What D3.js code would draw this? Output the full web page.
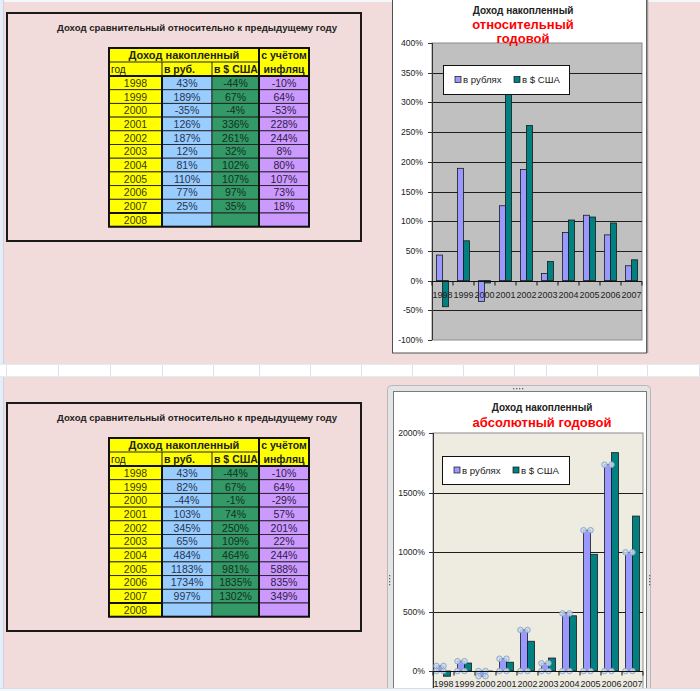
<!DOCTYPE html>
<html><head><meta charset="utf-8">
<script src="https://cdn.jsdelivr.net/npm/d3@7"></script>
<style>
body{margin:0;background:#F2DCDB;overflow:hidden}
svg{display:block}
text{font-family:"Liberation Sans",Arial,sans-serif}
</style>
</head><body>
<svg id="c" width="700" height="691"></svg>
<script>
// ---------- data ----------
const years = ["1998","1999","2000","2001","2002","2003","2004","2005","2006","2007"];
const tableYears = years.concat(["2008"]);
const relRub  = [43,189,-35,126,187,12,81,110,77,25];
const relUsd  = [-44,67,-4,336,261,32,102,107,97,35];
const relInfl = [-10,64,-53,228,244,8,80,107,73,18];
const absRub  = [43,82,-44,103,345,65,484,1183,1734,997];
const absUsd  = [-44,67,-1,74,250,109,464,981,1835,1302];
const absInfl = [-10,64,-29,57,201,22,244,588,835,349];
const relTicks = [-100,-50,0,50,100,150,200,250,300,350,400];
const absTicks = [0,500,1000,1500,2000];
const seriesNames = ["в рублях","в $ США"];
const tableTitle = "Доход сравнительный относительно к предыдущему году";
const headTop = "Доход накопленный";
const headCols = ["год","в руб.","в $ США"];
const headInfl = ["с учётом","инфляц"];
const chartTitle = "Доход накопленный";
const relSub = ["относительный","годовой"];
const absSub = ["абсолютный годовой"];
const sheetGridX = [6,58,110,162,213,259,310,361,412,463,514,546,597,647,699];

const svg = d3.select("#c");
const pct = d => d + "%";

// background
svg.append("rect").attr("width",700).attr("height",691).attr("fill","#F2DCDB");
svg.append("rect").attr("x",0).attr("y",0).attr("width",700).attr("height",2).attr("fill","#F4F7FB");
svg.append("rect").attr("x",0).attr("y",0).attr("width",3).attr("height",691).attr("fill","#E6EDF6");
svg.append("line").attr("x1",3.5).attr("x2",3.5).attr("y1",0).attr("y2",691).attr("stroke","#C9D3E2");

// sheet grid strip between the two blocks
svg.append("rect").attr("x",0).attr("y",364).attr("width",700).attr("height",13).attr("fill","#FFFFFF");
svg.selectAll(".sg").data(sheetGridX).join("line")
  .attr("x1",d=>d+0.5).attr("x2",d=>d+0.5).attr("y1",364).attr("y2",377)
  .attr("stroke","#DCE3EE");
svg.append("line").attr("x1",0).attr("x2",700).attr("y1",364.5).attr("y2",364.5).attr("stroke","#E6EBF2");
svg.append("line").attr("x1",0).attr("x2",700).attr("y1",376.5).attr("y2",376.5).attr("stroke","#E6EBF2");

// ---------- table ----------
function drawTable(top, rub, usd, infl) {
  const g = svg.append("g");
  g.append("rect").attr("x",7).attr("y",top-35).attr("width",354).attr("height",228)
    .attr("fill","none").attr("stroke","#1a1a1a").attr("stroke-width",2);
  g.append("text").attr("x",197).attr("y",top-17).attr("text-anchor","middle")
    .attr("font-size",9.6).attr("font-weight","bold").attr("fill","#222").text(tableTitle);

  const cols = [109,162,212,259,309];
  const h2 = top + 14, d0 = top + 28;
  const rowY = d3.scaleBand().domain(tableYears).range([d0, d0 + 13.7*tableYears.length]);
  const fills = ["#FFFF00","#99CCFF","#339966","#CC99FF"];
  const txtCol = ["#3a3a00","#26344f","#10301e","#2e1a46"];
  const vals = [null, rub, usd, infl];

  g.append("rect").attr("x",cols[0]).attr("y",top).attr("width",cols[4]-cols[0]).attr("height",28).attr("fill","#FFFF00");
  tableYears.forEach((yr,i)=>{
    for (let c=0;c<4;c++){
      g.append("rect").attr("x",cols[c]).attr("y",rowY(yr)).attr("width",cols[c+1]-cols[c])
        .attr("height",rowY.bandwidth()).attr("fill",fills[c])
        .attr("stroke","#222").attr("stroke-width",0.9);
      const t = c===0 ? yr : (i < years.length ? pct(vals[c][i]) : "");
      if (t) g.append("text").attr("x",(cols[c]+cols[c+1])/2).attr("y",rowY(yr)+rowY.bandwidth()/2+4)
        .attr("text-anchor","middle").attr("font-size",10.5).attr("fill",txtCol[c]).text(t);
    }
  });
  // headers
  g.append("text").attr("x",(cols[0]+cols[3])/2).attr("y",top+11).attr("text-anchor","middle")
    .attr("font-size",11).attr("font-weight","bold").attr("fill","#222").text(headTop);
  headCols.forEach((h,i)=>{
    g.append("text").attr("x",cols[i]+2).attr("y",h2+11).attr("font-size",i===0?10:10.5)
      .attr("font-weight",i===0?"normal":"bold").attr("fill","#222").text(h);
  });
  headInfl.forEach((h,i)=>{
    g.append("text").attr("x",(cols[3]+cols[4])/2).attr("y",top+11+i*14).attr("text-anchor","middle")
      .attr("font-size",10.5).attr("font-weight","bold").attr("fill","#222").text(h);
  });
  // header lines
  g.append("line").attr("x1",cols[0]).attr("x2",cols[3]).attr("y1",h2).attr("y2",h2).attr("stroke","#222").attr("stroke-width",1);
  [cols[1],cols[2]].forEach(x=>g.append("line").attr("x1",x).attr("x2",x).attr("y1",h2).attr("y2",d0).attr("stroke","#222"));
  // thick lines
  const bottom = d0 + 13.7*tableYears.length;
  const thick = (x1,y1,x2,y2)=>g.append("line").attr("x1",x1).attr("y1",y1).attr("x2",x2).attr("y2",y2).attr("stroke","#111").attr("stroke-width",2);
  thick(cols[3],top,cols[3],bottom);
  thick(cols[1],d0,cols[1],bottom);
  thick(cols[0],d0,cols[4],d0);
  thick(cols[0],rowY("2008"),cols[1],rowY("2008"));
  g.append("rect").attr("x",cols[0]).attr("y",top).attr("width",cols[4]-cols[0]).attr("height",bottom-top)
    .attr("fill","none").attr("stroke","#111").attr("stroke-width",2);
}
drawTable(48, relRub, relUsd, relInfl);
drawTable(438, absRub, absUsd, absInfl);

// ---------- charts ----------
function drawChart(o) {
  const g = svg.append("g");
  const x = d3.scaleBand().domain(years).range([o.x0, o.x1]);
  const y = d3.scaleLinear().domain(o.domain).range([o.yBot, o.yTop]);
  g.append("rect").attr("x",o.x0).attr("y",o.yTop).attr("width",o.x1-o.x0).attr("height",o.plotBottom-o.yTop)
    .attr("fill",o.plotFill).attr("stroke","#8c8c8c").attr("stroke-width",1);
  // gridlines
  g.selectAll(".gl").data(o.ticks.filter(t=>t!==o.domain[0] && t!==o.domain[1])).join("line")
    .attr("x1",o.x0).attr("x2",o.x1).attr("y1",d=>Math.round(y(d))+0.5).attr("y2",d=>Math.round(y(d))+0.5)
    .attr("stroke","#1e1e1e").attr("stroke-width",1);
  // y axis
  g.append("line").attr("x1",o.x0+0.5).attr("x2",o.x0+0.5).attr("y1",o.yTop).attr("y2",o.plotBottom).attr("stroke","#333");
  g.selectAll(".yt").data(o.ticks).join("line")
    .attr("x1",o.x0-4).attr("x2",o.x0).attr("y1",d=>Math.round(y(d))+0.5).attr("y2",d=>Math.round(y(d))+0.5).attr("stroke","#333");
  g.selectAll(".yl").data(o.ticks).join("text")
    .attr("x",o.x0-o.labOff).attr("y",d=>y(d)+3).attr("text-anchor","end")
    .attr("font-size",8.6).attr("fill","#222").text(pct);
  // bars
  const bw = o.bw;
  const cx = d => x(d) + x.bandwidth()/2;
  const bar = (vals, off, fill) => g.selectAll(null).data(years).join("rect")
    .attr("x",(d)=>cx(d)+off).attr("width",bw)
    .attr("y",(d,i)=>y(Math.max(0,vals[i]))).attr("height",(d,i)=>Math.abs(y(vals[i])-y(0)))
    .attr("fill",fill).attr("stroke","#1a1a1a").attr("stroke-width",0.8);
  bar(o.rub, -bw, "#9999FF");
  bar(o.usd, 0, "#008080");
  // selection markers
  if (o.select) {
    const pts = [];
    years.forEach((d,i)=>{
      [cx(d)-bw, cx(d)].forEach(px=>{ pts.push([px, y(o.rub[i])]); pts.push([px, y(0)]); });
    });
    g.selectAll(null).data(pts).join("circle").attr("cx",d=>d[0]).attr("cy",d=>d[1]).attr("r",2.8)
      .attr("fill","#C9DAEE").attr("fill-opacity",0.85).attr("stroke","#7E9CC0").attr("stroke-width",0.8);
  }
  // x axis
  const zy = Math.round(y(0))+0.5;
  g.append("line").attr("x1",o.x0).attr("x2",o.x1).attr("y1",zy).attr("y2",zy).attr("stroke","#111");
  const bounds = years.map(d=>x(d)).concat([o.x1]);
  g.selectAll(null).data(bounds).join("line").attr("x1",d=>d).attr("x2",d=>d).attr("y1",zy).attr("y2",zy+4).attr("stroke","#111");
  g.selectAll(null).data(years).join("text").attr("x",d=>cx(d)).attr("y",o.xLabY).attr("text-anchor","middle")
    .attr("font-size",9).attr("fill","#222").text(d=>d);
  // legend
  const L = o.legend;
  g.append("rect").attr("x",L.x+0.5).attr("y",L.y+0.5).attr("width",L.w).attr("height",L.h)
    .attr("fill","#fff").attr("stroke","#111");
  [[seriesNames[0],"#9999FF",L.x+12],[seriesNames[1],"#008080",L.x+71]].forEach(([n,c,lx])=>{
    g.append("rect").attr("x",lx).attr("y",L.y+L.h/2-3).attr("width",6).attr("height",6).attr("fill",c).attr("stroke","#111").attr("stroke-width",0.7);
    g.append("text").attr("x",lx+8).attr("y",L.y+L.h/2+3.5).attr("font-size",9.6).attr("fill","#222").text(n);
  });
  // titles
  g.append("text").attr("x",o.tx).attr("y",o.t1y).attr("text-anchor","middle").attr("font-size",10)
    .attr("font-weight","bold").attr("fill","#222").text(chartTitle);
  o.sub.forEach((s,i)=>g.append("text").attr("x",o.tx).attr("y",o.t2y+i*14).attr("text-anchor","middle")
    .attr("font-size",13).attr("font-weight","bold").attr("fill","#FF0000").text(s));
}

// top chart frame
svg.append("rect").attr("x",392.5).attr("y",-5).attr("width",254).attr("height",358)
  .attr("fill","#fff").attr("stroke","#505050").attr("stroke-width",1);
svg.append("line").attr("x1",647.5).attr("x2",647.5).attr("y1",0).attr("y2",353).attr("stroke","#9a9a9a").attr("stroke-width",1.5);
drawChart({x0:432,x1:642,yTop:43,yBot:340,plotBottom:340,domain:[-100,400],ticks:relTicks,
  rub:relRub,usd:relUsd,plotFill:"#C0C0C0",bw:6,labOff:9,xLabY:298,
  legend:{x:443,y:65,w:126,h:29},tx:523,t1y:14,t2y:29,sub:relSub,select:false});

// bottom chart selection frame
svg.append("rect").attr("x",387.5).attr("y",385.5).attr("width",263).attr("height",320).attr("rx",4)
  .attr("fill","#E4E4E4").attr("stroke","#B8B8B8");
svg.append("rect").attr("x",393.5).attr("y",391.5).attr("width",253).attr("height",310)
  .attr("fill","#fff").attr("stroke","#7a7a7a");
[[513,388],[516,388],[519,388],[522,388],[389,575],[389,578],[389,581],[389,584],[649,575],[649,578],[649,581],[649,584]]
  .forEach(([a,b])=>svg.append("rect").attr("x",a).attr("y",b).attr("width",1.3).attr("height",1.3).attr("fill","#666"));
drawChart({x0:433,x1:643,yTop:433,yBot:671,plotBottom:700,domain:[0,2000],ticks:absTicks,
  rub:absRub,usd:absUsd,plotFill:"#EEECE1",bw:7,labOff:8,xLabY:687,
  legend:{x:442,y:456,w:127,h:28},tx:542,t1y:411,t2y:427,sub:absSub,select:true});

// bottom sheet row
svg.append("rect").attr("x",0).attr("y",688).attr("width",700).attr("height",3).attr("fill","#F4F7FB");
svg.append("line").attr("x1",0).attr("x2",700).attr("y1",688.5).attr("y2",688.5).attr("stroke","#D5DDE9");
</script>
</body></html>
